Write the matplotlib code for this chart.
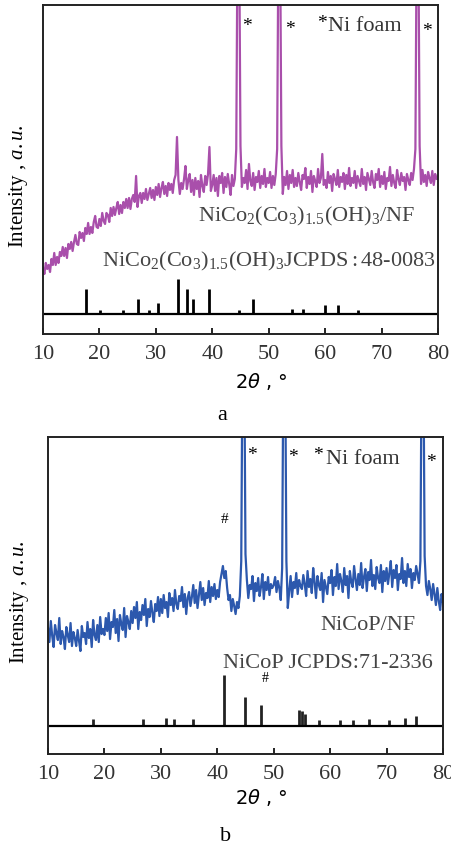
import numpy as np
import matplotlib
matplotlib.use("Agg")
import matplotlib.pyplot as plt

plt.rcParams['font.family'] = ['Liberation Serif', 'DejaVu Serif']
plt.rcParams['mathtext.fontset'] = 'custom'
plt.rcParams['mathtext.rm'] = 'Liberation Serif'
plt.rcParams['mathtext.it'] = 'Liberation Serif:italic'
plt.rcParams['mathtext.sf'] = 'DejaVu Sans:italic'

# 2theta sampling, 0.25 degree step
two_theta = np.linspace(10, 80, 281)

# panel a: NiCo2(CO3)1.5(OH)3/NF pattern
int_a = [
    46, 40, 51, 45, 49, 42, 55, 49, 61, 49, 57, 51, 62, 58, 67, 58, 66, 56, 70, 65,
    72, 63, 72, 79, 70, 69, 82, 76, 81, 73, 86, 80, 91, 80, 87, 81, 92, 98, 87, 86,
    95, 88, 101, 93, 90, 101, 99, 92, 106, 98, 107, 99, 106, 112, 100, 109, 101, 112, 106, 115,
    106, 116, 105, 115, 119, 112, 138, 107, 118, 121, 111, 121, 115, 125, 114, 120, 126, 116, 124, 114,
    127, 119, 130, 117, 126, 132, 120, 128, 118, 131, 124, 130, 121, 134, 139, 177, 134, 120, 131, 125,
    135, 148, 125, 134, 140, 122, 134, 119, 136, 125, 133, 117, 139, 128, 122, 138, 129, 140, 167, 123,
    129, 139, 123, 136, 118, 138, 131, 141, 121, 137, 127, 140, 130, 119, 139, 128, 135, 165, 400, 400,
    168, 127, 136, 131, 144, 125, 150, 133, 128, 141, 124, 137, 132, 143, 126, 138, 130, 145, 127, 136,
    131, 142, 126, 138, 129, 140, 165, 400, 400, 168, 120, 137, 129, 143, 125, 139, 131, 144, 127, 136,
    128, 141, 132, 124, 139, 135, 146, 126, 137, 130, 143, 122, 138, 133, 127, 145, 131, 136, 160, 129,
    134, 126, 142, 131, 138, 123, 140, 135, 129, 144, 127, 137, 132, 141, 125, 139, 130, 146, 128, 136,
    131, 143, 126, 138, 133, 128, 145, 130, 137, 124, 141, 135, 129, 143, 132, 126, 140, 134, 145, 127,
    138, 130, 142, 125, 136, 133, 147, 128, 139, 131, 126, 144, 135, 129, 141, 133, 137, 124, 140, 134,
    129, 141, 134, 145, 165, 400, 400, 168, 130, 144, 132, 139, 128, 142, 136, 131, 143, 129, 140, 135,
    138,
]

# panel b: NiCoP/NF pattern
int_b = [
    98, 84, 105, 90, 79, 101, 93, 86, 108, 82, 95, 89, 77, 99, 91, 84, 103, 80, 94, 88,
    80, 96, 85, 75, 100, 89, 93, 82, 104, 88, 97, 79, 106, 91, 86, 101, 84, 109, 92, 97,
    91, 108, 95, 113, 87, 104, 99, 116, 93, 107, 85, 111, 102, 96, 118, 89, 110, 104, 97, 115,
    103, 119, 108, 124, 97, 114, 106, 121, 111, 127, 100, 117, 109, 125, 113, 104, 122, 115, 129, 110,
    127, 113, 131, 118, 124, 109, 133, 121, 128, 115, 136, 122, 117, 130, 125, 139, 119, 132, 112, 128,
    134, 120, 129, 141, 123, 136, 118, 131, 144, 126, 138, 121, 133, 128, 145, 124, 139, 130, 142, 127,
    136, 129, 144, 152, 160, 148, 155, 138, 126, 131, 115, 127, 120, 112, 124, 118, 130, 165, 400, 400,
    172, 146, 128, 141, 137, 150, 125, 143, 135, 148, 130, 139, 152, 127, 144, 136, 149, 131, 142, 138,
    141, 149, 134, 145, 138, 126, 158, 400, 400, 165, 118, 135, 150, 129, 144, 138, 153, 132, 146, 140,
    137, 151, 142, 130, 155, 139, 147, 133, 158, 144, 128, 150, 141, 136, 153, 124, 146, 139, 132, 149,
    143, 156, 131, 149, 140, 162, 137, 152, 145, 134, 158, 141, 150, 128, 155, 144, 139, 160, 147, 136,
    152, 141, 163, 138, 149, 157, 135, 154, 146, 166, 140, 151, 137, 159, 148, 143, 161, 134, 155, 145,
    158, 142, 153, 165, 139, 156, 148, 161, 136, 152, 147, 168, 143, 155, 140, 162, 149, 157, 138, 153,
    146, 160, 152, 143, 165, 400, 400, 170, 140, 131, 145, 137, 126, 142, 132, 121, 138, 125, 116, 132,
    124,
]

# standard card lines (JCPDS)
ref_a_pos = [17.6, 20.1, 24.2, 26.8, 28.8, 30.4, 33.9, 35.5, 36.5, 39.5,
             44.7, 47.3, 54.2, 56.1, 60.0, 62.2, 65.8]
ref_a_h = [25, 4, 4, 15, 4, 11, 35, 25, 15, 25, 4, 15, 5, 5, 9, 9, 4]

ref_b_pos = [17.9, 26.9, 30.9, 32.3, 35.7, 41.2, 45.0, 47.8, 54.5, 55.0,
             55.5, 58.1, 61.8, 64.0, 66.9, 70.4, 73.2, 75.3]
ref_b_h = [7, 7, 8, 7, 7, 51, 29, 21, 16, 15, 12, 6, 6, 6, 7, 6, 8, 10]

xticks = [10, 20, 30, 40, 50, 60, 70, 80]

fig = plt.figure(figsize=(4.51, 8.45), dpi=100)
ax_a = fig.add_axes([0.0953, 0.6036, 0.8758, 0.3893])
ax_b = fig.add_axes([0.1064, 0.1065, 0.8758, 0.3751])


def style_axes(ax, ylim):
    ax.set_xlim(10, 80)
    ax.set_ylim(*ylim)
    ax.set_xticks(xticks)
    ax.set_yticks([])
    ax.tick_params(axis='x', direction='in', length=4, width=1.2,
                   labelsize=16, pad=7, labelcolor='#333333')
    for sp in ax.spines.values():
        sp.set_linewidth(1.4)
        sp.set_color('#222222')
    ax.axhline(0, color='black', lw=1.6)


# ---- panel a ----
ax_a.plot(two_theta, int_a, color='#a94fab', lw=1.6)
ax_a.vlines(ref_a_pos, 0, ref_a_h, color='black', lw=2)
style_axes(ax_a, (-20, 309))
for x, y in [(46.2, 288), (53.8, 285), (59.4, 291), (78.0, 283)]:
    ax_a.text(x, y, '*', fontsize=14, ha='center', va='center')
ax_a.text(60.6, 288, 'Ni foam', fontsize=16, va='center', color='#333333')
ax_a.text(37.5, 93, r'$\mathregular{NiCo_2(Co_3)_{1.5}(OH)_3/NF}$',
          fontsize=16, color='#444444', va='baseline')
ax_a.text(20.5, 48, r'$\mathregular{NiCo_2(Co_3)_{1.5}(OH)_3JCPDS{:}48\text{-}0083}$',
          fontsize=16, color='#444444', va='baseline')
ax_a.text(-0.063, 0.453, 'Intensity , $\\mathit{a.u.}$', transform=ax_a.transAxes,
          rotation=90, fontsize=15, ha='center', va='center')
fig.text(0.580, 1 - 382 / 845, r'2$\mathsf{\theta}$ , °', fontsize=14,
         family='DejaVu Sans', ha='center', va='center')
fig.text(222 / 451, 1 - 416 / 845, 'a', fontsize=16, ha='center', va='center')

# ---- panel b ----
ax_b.plot(two_theta, int_b, color='#2c58ad', lw=1.6)
ax_b.vlines(ref_b_pos, 0, ref_b_h, color='#222222', lw=2)
style_axes(ax_b, (-28, 289))
ax_b.text(41.2, 208, '#', fontsize=11, ha='center', va='center')
for x, y in [(46.2, 272), (53.4, 270), (57.9, 272), (77.9, 265)]:
    ax_b.text(x, y, '*', fontsize=14, ha='center', va='center')
ax_b.text(59.2, 268, 'Ni foam', fontsize=16, va='center', color='#333333')
ax_b.text(58.2, 97, 'NiCoP/NF', fontsize=16, color='#444444', va='baseline')
ax_b.text(41.0, 59, 'NiCoP JCPDS:71-2336', fontsize=16, color='#444444',
          va='baseline')
ax_b.text(48.5, 49, '#', fontsize=10, ha='center', va='center')
ax_b.text(-0.071, 0.483, 'Intensity , $\\mathit{a.u.}$', transform=ax_b.transAxes,
          rotation=90, fontsize=15, ha='center', va='center')
fig.text(0.580, 1 - 798 / 845, r'2$\mathsf{\theta}$ , °', fontsize=14,
         family='DejaVu Sans', ha='center', va='center')
fig.text(226 / 451, 1 - 837 / 845, 'b', fontsize=16, ha='center', va='center')

fig.savefig('out.png', dpi=100)
